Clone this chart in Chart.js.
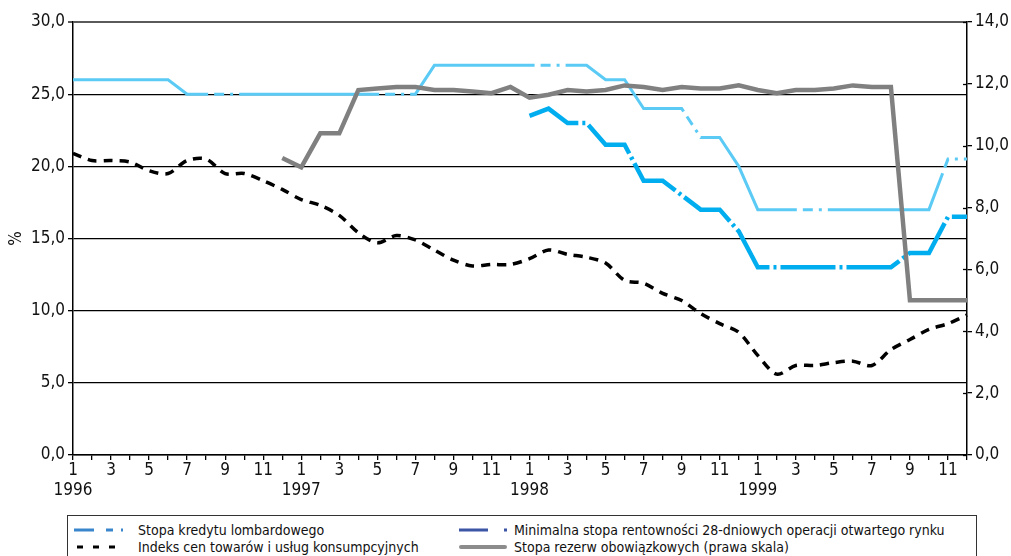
<!DOCTYPE html>
<html>
<head>
<meta charset="utf-8">
<script src="https://cdn.jsdelivr.net/npm/chart.js@4/dist/chart.umd.min.js"></script>
<style>
  body { margin: 0; background: #fff; }
  #wrap { position: relative; width: 1011px; height: 556px; overflow: hidden; }
  #legend {
    position: absolute; left: 67px; top: 515px; width: 910px; height: 60px;
    border: 1px solid #333; box-sizing: border-box;
    font-family: "Liberation Sans Narrow", "DejaVu Sans Condensed", sans-serif;
    font-size: 14px; color: #111;
  }
  .item { position: absolute; height: 18px; line-height: 18px; white-space: nowrap; }
  .item svg { position: absolute; left: 0; top: 6px; }
  .item span { position: absolute; left: 65px; top: 0; }
</style>
</head>
<body>
<div id="wrap">
  <canvas id="chart" width="1011" height="510"></canvas>
  <div id="legend">
    <div class="item" style="left:5px;top:5px;width:400px">
      <svg width="52" height="6"><line x1="1" y1="3" x2="52" y2="3" stroke="#3a86cc" stroke-width="3" stroke-dasharray="20,12,7,8,2,10"/></svg>
      <span>Stopa kredytu lombardowego</span>
    </div>
    <div class="item" style="left:5px;top:22px;width:400px">
      <svg width="52" height="6"><line x1="4" y1="3" x2="52" y2="3" stroke="#000" stroke-width="3" stroke-dasharray="6,10"/></svg>
      <span>Indeks cen towarów i usług konsumpcyjnych</span>
    </div>
    <div class="item" style="left:390px;top:5px;width:520px">
      <svg width="52" height="6"><line x1="1" y1="3" x2="52" y2="3" stroke="#3c55a5" stroke-width="3" stroke-dasharray="29,16,3,10"/></svg>
      <span style="left:56px">Minimalna stopa rentowności 28-dniowych operacji otwartego rynku</span>
    </div>
    <div class="item" style="left:390px;top:22px;width:520px">
      <svg width="52" height="6"><line x1="3" y1="3" x2="47" y2="3" stroke="#8c8c8c" stroke-width="4" stroke-linecap="round"/></svg>
      <span style="left:56px">Stopa rezerw obowiązkowych (prawa skala)</span>
    </div>
  </div>
</div>
<script>
const years = ['1996', '1997', '1998', '1999'];
const monthTicks = ['1', '', '3', '', '5', '', '7', '', '9', '', '11', ''];

// stopa kredytu lombardowego, %
const lombard = [
  26, 26, 26, 26, 26, 26, 25, 25, 25, 25, 25, 25,
  25, 25, 25, 25, 25, 25, 25, 27, 27, 27, 27, 27,
  27, 27, 27, 27, 26, 26, 24, 24, 24, 22, 22, 20,
  17, 17, 17, 17, 17, 17, 17, 17, 17, 17, 20.5, 20.5
];

// minimalna stopa rentownosci operacji 28-dniowych, %
const minRate = [
  null, null, null, null, null, null, null, null, null, null, null, null,
  null, null, null, null, null, null, null, null, null, null, null, null,
  23.5, 24, 23, 23, 21.5, 21.5, 19, 19, 18, 17, 17, 15.5,
  13, 13, 13, 13, 13, 13, 13, 13, 14, 14, 16.5, 16.5
];

// CPI, r/r %
const cpi = [
  20.9, 20.4, 20.4, 20.3, 19.7, 19.5, 20.4, 20.5, 19.5, 19.5, 19.0, 18.4,
  17.7, 17.3, 16.6, 15.4, 14.7, 15.2, 14.9, 14.2, 13.5, 13.1, 13.2, 13.2,
  13.6, 14.2, 13.9, 13.7, 13.3, 12.1, 11.9, 11.2, 10.7, 9.8, 9.1, 8.5,
  6.9, 5.6, 6.2, 6.2, 6.4, 6.5, 6.2, 7.3, 8.0, 8.7, 9.1, 9.7
];

// stopa rezerw obowiazkowych, prawa skala
const reserve = [
  null, null, null, null, null, null, null, null, null, null, null, 9.6,
  9.3, 10.4, 10.4, 11.8, 11.85, 11.9, 11.9, 11.8, 11.8, 11.75, 11.7, 11.9,
  11.55, 11.65, 11.8, 11.75, 11.8, 11.95, 11.9, 11.8, 11.9, 11.85, 11.85, 11.95,
  11.8, 11.7, 11.8, 11.8, 11.85, 11.95, 11.9, 11.9, 5.0, 5.0, 5.0, 5.0
];

const labels = [];
years.forEach(y => monthTicks.forEach((m, i) => labels.push(i === 0 ? [m, y] : m)));

const font = { family: '"Liberation Sans Narrow", "DejaVu Sans Condensed", sans-serif', size: 17 };
const comma = v => v.toFixed(1).replace('.', ',');

// short marks on the inner side of the right axis
const innerTicks = {
  id: 'innerTicks',
  afterDraw(chart) {
    const s = chart.scales.y1, ctx = chart.ctx;
    ctx.save();
    ctx.strokeStyle = '#000';
    ctx.lineWidth = 1.3;
    s.ticks.forEach(t => {
      const y = Math.round(s.getPixelForValue(t.value)) + 0.5;
      ctx.beginPath();
      ctx.moveTo(s.left - 4, y);
      ctx.lineTo(s.left, y);
      ctx.stroke();
    });
    ctx.restore();
  }
};

new Chart(document.getElementById('chart'), {
  type: 'line',
  data: {
    labels: labels,
    datasets: [
      {
        label: 'Stopa kredytu lombardowego',
        data: lombard,
        borderColor: '#5bcbf5',
        borderWidth: 3,
        borderDash: [140, 6, 10, 6, 3, 6],
        yAxisID: 'y',
        order: 3
      },
      {
        label: 'Minimalna stopa rentowności 28-dniowych operacji otwartego rynku',
        data: minRate,
        borderColor: '#00aeef',
        borderWidth: 4.5,
        borderDash: [55, 4, 3, 4],
        yAxisID: 'y',
        order: 2
      },
      {
        label: 'Indeks cen towarów i usług konsumpcyjnych',
        data: cpi,
        borderColor: '#000',
        borderWidth: 3.5,
        borderDash: [9, 7],
        tension: 0.3,
        yAxisID: 'y',
        order: 1
      },
      {
        label: 'Stopa rezerw obowiązkowych (prawa skala)',
        data: reserve,
        borderColor: '#808080',
        borderWidth: 4.5,
        yAxisID: 'y1',
        order: 0
      }
    ]
  },
  options: {
    responsive: false,
    animation: false,
    elements: { point: { radius: 0 }, line: { borderCapStyle: 'butt' } },
    layout: { padding: { top: 22, left: 0, right: 0, bottom: 0 } },
    plugins: { legend: { display: false }, tooltip: { enabled: false } },
    scales: {
      x: {
        offset: false,
        afterFit: s => { s.height = 55; },
        grid: { drawOnChartArea: false, drawTicks: true, tickLength: 5, color: '#000', lineWidth: 1.3 },
        border: { color: '#000', width: 1.5 },
        ticks: { autoSkip: false, maxRotation: 0, color: '#111', font: font, padding: 0 }
      },
      y: {
        position: 'left',
        min: 0, max: 30,
        afterFit: s => { s.width = 73; },
        title: { display: true, text: '%', color: '#111', font: font, padding: { top: 6, bottom: 0 } },
        grid: {
          color: c => c.tick && c.tick.value === 30 ? '#5a5a5a' : '#000',
          lineWidth: c => c.tick && c.tick.value === 30 ? 2 : 1.3,
          tickLength: 5
        },
        border: { color: '#000', width: 1.5 },
        ticks: { stepSize: 5, color: '#111', font: font, padding: 3, callback: comma }
      },
      y1: {
        position: 'right',
        min: 0, max: 14,
        afterFit: s => { s.width = 44; },
        grid: { drawOnChartArea: false, tickLength: 5, color: '#000', lineWidth: 1.3 },
        border: { color: '#000', width: 1.5 },
        ticks: { stepSize: 2, color: '#111', font: font, padding: 3, callback: comma }
      }
    }
  },
  plugins: [innerTicks]
});
</script>
</body>
</html>
